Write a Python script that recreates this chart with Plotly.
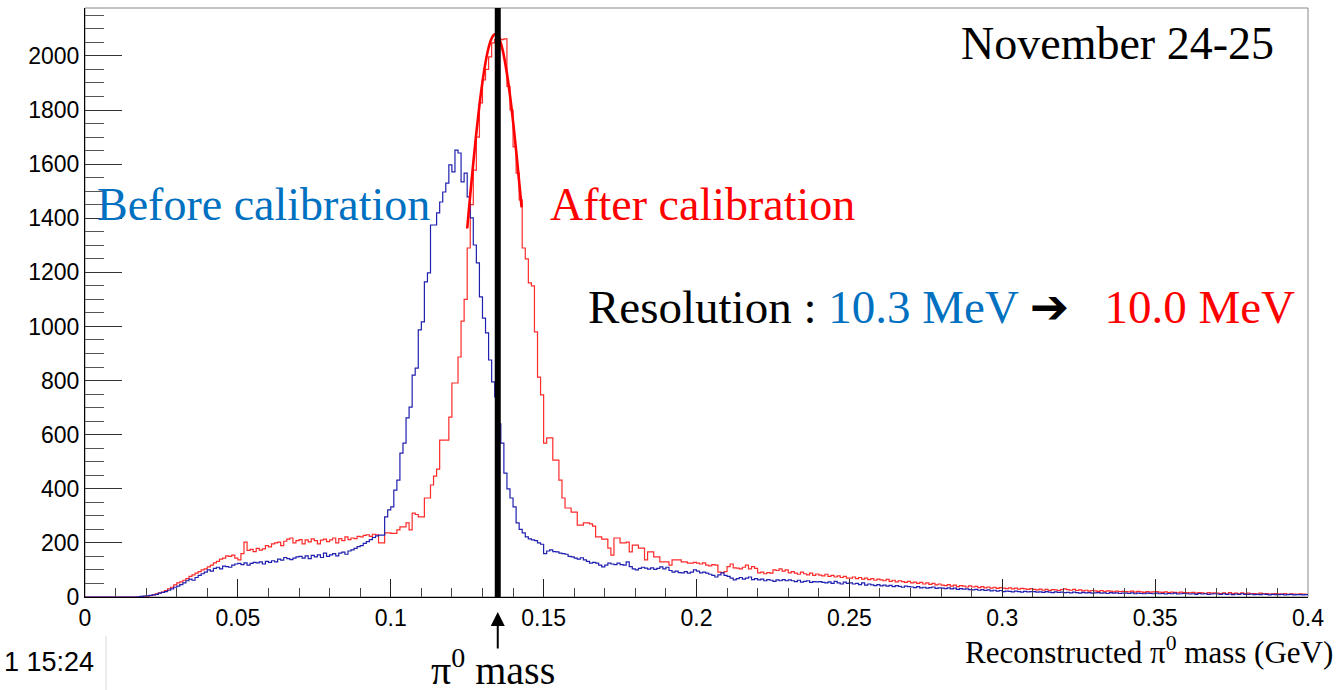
import numpy as np
import plotly.graph_objects as go

# ---------------- data ----------------
x_min, x_max = 0.0, 0.4
n_bins = 400
pi0_mass = 0.135

before_calibration = [
    0, 0, 0, 0, 0, 0, 0, 0, 0, 0,
    0, 0, 0, 0, 0, 0, 0, 1, 2, 3,
    4, 6, 8, 10, 14, 17, 20, 25, 30, 36,
    40, 46, 52, 60, 66, 62, 72, 80, 86, 92,
    100, 96, 106, 110, 104, 114, 112, 110, 118, 122,
    124, 120, 126, 118, 124, 128, 126, 130, 122, 132,
    128, 134, 130, 140, 136, 146, 142, 138, 144, 148,
    150, 144, 152, 142, 154, 148, 156, 146, 162, 150,
    156, 160, 152, 162, 166, 158, 170, 174, 180, 186,
    190, 198, 205, 212, 220, 226, 229, 229, 296, 322,
    333, 395, 432, 532, 569, 662, 702, 820, 846, 987,
    1017, 1165, 1198, 1375, 1375, 1420, 1460, 1497, 1530, 1597,
    1571, 1652, 1641, 1534, 1567, 1479, 1401, 1301, 1235, 1109,
    1031, 976, 876, 795, 740, 640, 569, 458, 400, 366,
    333, 274, 250, 237, 222, 215, 211, 208, 200, 195,
    160, 170, 174, 168, 167, 162, 160, 158, 150, 148,
    144, 140, 145, 137, 132, 125, 128, 125, 118, 111,
    118, 125, 122, 120, 125, 120, 118, 130, 112, 104,
    100, 106, 110, 107, 103, 108, 102, 106, 111, 104,
    110, 98, 92, 96, 90, 89, 94, 88, 92, 100,
    96, 89, 92, 88, 84, 80, 74, 82, 89, 80,
    76, 70, 63, 68, 72, 66, 70, 74, 64, 68,
    63, 66, 60, 64, 62, 58, 63, 60, 64, 60,
    63, 60, 57, 62, 55, 58, 60, 54, 57, 56,
    57, 54, 52, 56, 50, 58, 52, 48, 55, 50,
    52, 48, 50, 46, 52, 44, 48, 45, 42, 46,
    41, 44, 40, 43, 38, 42, 39, 36, 40, 38,
    37, 35, 38, 34, 36, 33, 35, 37, 32, 34,
    33, 31, 34, 30, 33, 28, 31, 29, 30, 27,
    26, 28, 25, 27, 24, 26, 23, 25, 22, 24,
    20, 22, 21, 19, 22, 20, 18, 21, 19, 20,
    20, 18, 19, 17, 20, 18, 16, 19, 17, 18,
    16, 17, 15, 18, 16, 14, 17, 15, 16, 14,
    15, 16, 14, 15, 13, 16, 14, 15, 13, 14,
    14, 13, 15, 12, 14, 13, 12, 14, 13, 12,
    14, 12, 13, 11, 13, 12, 14, 11, 12, 13,
    12, 11, 12, 10, 13, 11, 12, 10, 11, 12,
    11, 10, 12, 10, 11, 9, 11, 10, 12, 10,
    10, 11, 9, 10, 9, 11, 10, 8, 10, 9,
    9, 10, 8, 9, 10, 8, 9, 9, 8, 9,
]

after_calibration = [
    0, 0, 0, 0, 0, 0, 0, 0, 0, 0,
    0, 0, 0, 0, 0, 0, 0, 0, 1, 2,
    3, 5, 8, 12, 15, 18, 24, 30, 36, 45,
    52, 56, 62, 68, 76, 82, 88, 94, 100, 104,
    111, 118, 126, 132, 140, 144, 152, 150, 155, 144,
    137, 160, 203, 172, 176, 168, 180, 173, 178, 190,
    185, 196, 200, 203, 190, 206, 214, 218, 200, 208,
    212, 196, 211, 204, 215, 208, 196, 210, 214, 205,
    211, 218, 200, 216, 208, 222, 212, 218, 216, 224,
    222, 228, 230, 224, 232, 230, 200, 200, 237, 237,
    235, 235, 248, 259, 259, 274, 248, 310, 305, 296,
    296, 366, 366, 414, 447, 473, 580, 580, 580, 665,
    791, 791, 887, 1020, 1100, 1290, 1450, 1578, 1700, 1826,
    1911, 1950, 1996, 2048, 2060, 2065, 2060, 2063, 1887, 1800,
    1664, 1567, 1468, 1290, 1250, 1161, 1150, 980, 813, 747,
    569, 588, 588, 506, 506, 432, 366, 329, 329, 314,
    314, 266, 266, 274, 274, 270, 262, 222, 222, 214,
    214, 181, 155, 218, 218, 200, 200, 203, 167, 192,
    192, 181, 181, 137, 167, 167, 148, 148, 130, 130,
    130, 118, 137, 137, 137, 130, 130, 125, 125, 128,
    125, 122, 126, 118, 115, 120, 118, 92, 90, 94,
    112, 122, 108, 107, 104, 110, 118, 104, 112, 106,
    89, 92, 86, 90, 88, 100, 98, 104, 96, 100,
    89, 94, 88, 84, 92, 86, 82, 88, 80, 85,
    81, 78, 84, 76, 80, 74, 78, 72, 76, 70,
    70, 74, 68, 72, 66, 70, 64, 68, 62, 66,
    63, 60, 65, 58, 62, 56, 60, 57, 54, 58,
    52, 55, 50, 54, 48, 52, 47, 50, 45, 48,
    44, 42, 46, 40, 44, 38, 42, 40, 37, 41,
    37, 39, 35, 38, 34, 37, 33, 36, 32, 35,
    33, 31, 34, 30, 33, 29, 32, 30, 28, 31,
    28, 26, 29, 25, 28, 24, 27, 26, 24, 27,
    30, 27, 25, 28, 24, 26, 23, 25, 22, 24,
    23, 21, 24, 20, 23, 22, 19, 22, 20, 21,
    20, 19, 22, 18, 21, 19, 17, 20, 18, 19,
    20, 18, 17, 19, 16, 18, 17, 15, 18, 16,
    16, 15, 17, 14, 16, 15, 13, 16, 14, 15,
    14, 13, 15, 12, 16, 13, 14, 12, 15, 13,
    14, 12, 13, 11, 14, 12, 13, 11, 12, 13,
    12, 11, 13, 10, 12, 11, 10, 12, 11, 10,
]

# Gaussian fit curve of the "after" histogram
fit_x = [0.1250, 0.1260, 0.1270, 0.1280, 0.1290, 0.1300, 0.1310, 0.1320, 0.1330,
         0.1340, 0.1350, 0.1360, 0.1370, 0.1380, 0.1390, 0.1400, 0.1410, 0.1420, 0.1428]
fit_y = [1362, 1486, 1605, 1716, 1817, 1904, 1976, 2030, 2065,
         2080, 2073, 2047, 2000, 1935, 1854, 1758, 1651, 1534, 1440]

x_tick_vals = [0, 0.05, 0.1, 0.15, 0.2, 0.25, 0.3, 0.35, 0.4]
x_tick_text = ["0", "0.05", "0.1", "0.15", "0.2", "0.25", "0.3", "0.35", "0.4"]
y_tick_vals = [0, 200, 400, 600, 800, 1000, 1200, 1400, 1600, 1800, 2000]
y_tick_text = ["0", "200", "400", "600", "800", "1000", "1200", "1400", "1600", "1800", "2000"]
y_max = 2177

# ---------------- figure ----------------
edges = np.linspace(x_min, x_max, n_bins + 1)


def step_y(vals):
    return list(vals) + [vals[-1]]


fig = go.Figure()
fig.add_trace(go.Scatter(x=edges, y=step_y(after_calibration), mode="lines",
                         line=dict(color="#ff2a2a", width=1.2, shape="hv"),
                         hoverinfo="skip", showlegend=False))
fig.add_trace(go.Scatter(x=edges, y=step_y(before_calibration), mode="lines",
                         line=dict(color="#2020b0", width=1.2, shape="hv"),
                         hoverinfo="skip", showlegend=False))
fig.add_trace(go.Scatter(x=fit_x, y=fit_y, mode="lines",
                         line=dict(color="#ff0000", width=2.6, shape="spline"),
                         hoverinfo="skip", showlegend=False))

W, H = 1338, 690
L, R, T, B = 85, 30, 8, 93
pw, ph = W - L - R, H - T - B


def px(xp):
    return (xp - L) / pw


def py(yp):
    return (H - B - yp) / ph


serif = "Liberation Serif, Times New Roman, serif"
sans = "Liberation Sans, Arial, Helvetica, sans-serif"

fig.update_layout(
    width=W, height=H, autosize=False,
    margin=dict(l=L, r=R, t=T, b=B, pad=0),
    paper_bgcolor="white", plot_bgcolor="white",
    xaxis=dict(range=[x_min, x_max], tickvals=x_tick_vals, ticktext=x_tick_text,
               ticks="inside", ticklen=18, tickwidth=1, tickcolor="#222",
               minor=dict(dtick=0.01, tick0=0, ticks="inside", ticklen=9,
                          tickcolor="#444", tickwidth=1, showgrid=False),
               showline=True, linecolor="black", linewidth=1.2,
               showgrid=False, zeroline=False,
               tickfont=dict(family=sans, size=23, color="black")),
    yaxis=dict(range=[0, y_max], tickvals=y_tick_vals, ticktext=y_tick_text,
               ticks="inside", ticklen=37, tickwidth=1, tickcolor="#333",
               minor=dict(dtick=50, tick0=0, ticks="inside", ticklen=19,
                          tickcolor="#555", tickwidth=1, showgrid=False),
               showline=True, linecolor="black", linewidth=1.2,
               showgrid=False, zeroline=False,
               tickfont=dict(family=sans, size=23, color="black")),
)

fig.add_shape(type="rect", xref="paper", yref="paper", x0=0, x1=1, y0=0, y1=1,
              line=dict(color="#888", width=1), layer="below")
fig.add_shape(type="line", xref="x", yref="paper", x0=pi0_mass, x1=pi0_mass, y0=0, y1=1,
              line=dict(color="black", width=6))
fig.add_shape(type="line", xref="paper", yref="paper", x0=px(106), x1=px(106),
              y0=py(636), y1=py(692), line=dict(color="#d8d8d8", width=1))

ann = [
    dict(text="November 24-25", x=px(1276), y=py(43), xanchor="right", yanchor="middle",
         font=dict(family=serif, size=46, color="black")),
    dict(text="Before calibration", x=px(95), y=py(204), xanchor="left", yanchor="middle",
         font=dict(family=serif, size=46, color="#0070c0")),
    dict(text="After calibration", x=px(548), y=py(204), xanchor="left", yanchor="middle",
         font=dict(family=serif, size=46, color="#ff0000")),
    dict(text="Resolution : <span style='color:#0070c0'>10.3 MeV</span> "
              "<span style='font-family:DejaVu Sans;font-size:47px'>\u2794</span>"
              " &nbsp;&nbsp;<span style='color:#ff0000'>10.0 MeV</span>",
         x=px(586), y=py(306), xanchor="left", yanchor="middle",
         font=dict(family=serif, size=47, color="black")),
    dict(text="1 15:24", x=px(96), y=py(662), xanchor="right", yanchor="middle",
         font=dict(family=sans, size=27, color="black")),
    dict(text="Reconstructed \u03c0<sup>0</sup> mass (GeV)", x=px(963), y=py(650),
         xanchor="left", yanchor="middle",
         font=dict(family=serif, size=31, color="black")),
    dict(text="\u03c0<sup>0</sup> mass", x=px(493), y=py(667), xanchor="center", yanchor="middle",
         font=dict(family=serif, size=40, color="black")),
]
for a in ann:
    fig.add_annotation(xref="paper", yref="paper", showarrow=False, **a)

fig.add_annotation(x=pi0_mass, xref="x", y=py(612), yref="paper", text="",
                   showarrow=True, ax=0, ay=38, axref="pixel", ayref="pixel",
                   arrowhead=2, arrowsize=1.4, arrowwidth=2, arrowcolor="black")

fig.write_html("out.html")
